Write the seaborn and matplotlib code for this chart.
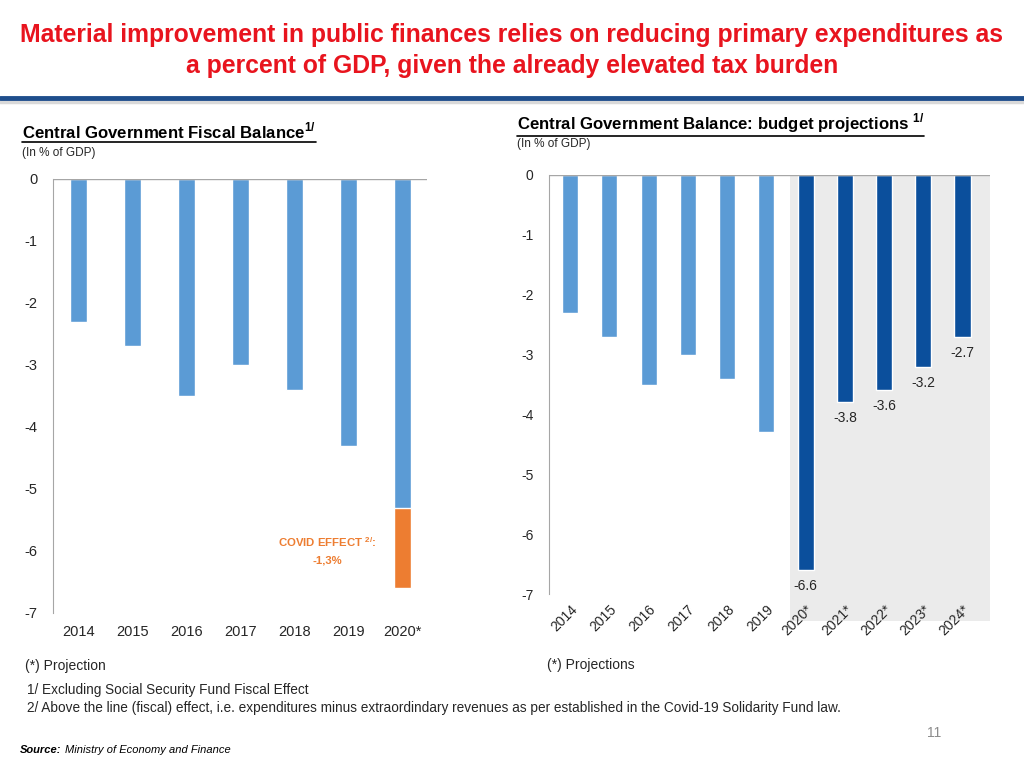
import matplotlib
matplotlib.use("Agg")
import matplotlib.pyplot as plt
import seaborn as sns
import pandas as pd
import numpy as np
from matplotlib.lines import Line2D

# left chart: fiscal balance (% of GDP), 2020 split into pre-covid part and covid effect
years_hist = ["2014", "2015", "2016", "2017", "2018", "2019", "2020*"]
balance_hist = [-2.3, -2.7, -3.5, -3.0, -3.4, -4.3, -5.3]
covid_effect = [0, 0, 0, 0, 0, 0, -1.3]

# right chart: budget projections
years_budget = ["2014", "2015", "2016", "2017", "2018", "2019",
                "2020*", "2021*", "2022*", "2023*", "2024*"]
balance_budget = [-2.3, -2.7, -3.5, -3.0, -3.4, -4.3, -6.6, -3.8, -3.6, -3.2, -2.7]
budget_kind = ["Actual"] * 6 + ["Projection"] * 5

y_ticks = [0, -1, -2, -3, -4, -5, -6, -7]

light_blue = "#5B9BD5"
dark_blue = "#0B4F9C"
orange = "#ED7D31"
text_col = "#262626"
axis_col = "#A6A6A6"

sns.set_style("white")
plt.rcParams["font.family"] = ["Liberation Sans", "DejaVu Sans"]
plt.rcParams["mathtext.fontset"] = "custom"
plt.rcParams["mathtext.rm"] = "Liberation Sans"
plt.rcParams["mathtext.bf"] = "Liberation Sans:bold"

fig = plt.figure(figsize=(10.24, 7.68), dpi=100)
W, H = 1024, 768
def fx(px): return px / W
def fy(py): return 1 - py / H

# ---- title and rule
fig.text(0.5, fy(35), "Material improvement in public finances relies on reducing primary expenditures as",
         ha="center", va="center", color="#E8141E", fontsize=17.8, fontweight="bold")
fig.text(0.5, fy(66), "a percent of GDP, given the already elevated tax burden",
         ha="center", va="center", color="#E8141E", fontsize=17.8, fontweight="bold")
fig.add_artist(Line2D([0, 1], [fy(102), fy(102)], transform=fig.transFigure, color="#D9D9D9", lw=2.5))
fig.add_artist(Line2D([0, 1], [fy(98), fy(98)], transform=fig.transFigure, color="#1F4E8C", lw=3.5))

# ---- left chart
ax1 = fig.add_axes([fx(53), fy(613), fx(427) - fx(53), fy(179) - fy(613)])
left_df = pd.DataFrame({"year": years_hist, "balance": balance_hist,
                        "total": np.add(balance_hist, covid_effect)})
sns.barplot(data=left_df, x="year", y="total", color=orange, width=0.32,
            saturation=1, errorbar=None, ax=ax1)
sns.barplot(data=left_df, x="year", y="balance", color=light_blue, width=0.32,
            saturation=1, errorbar=None, ax=ax1)
ax1.set_ylim(-7, 0)
ax1.set_xlim(-0.47, 6.45)
ax1.axhline(0, color=axis_col, lw=1)
for s in ["top", "right", "bottom"]:
    ax1.spines[s].set_visible(False)
ax1.spines["left"].set_color(axis_col)
ax1.set_yticks(y_ticks)
ax1.set_yticklabels([str(t) for t in y_ticks])
ax1.tick_params(axis="y", length=0, pad=11, labelsize=10.5, labelcolor=text_col)
ax1.tick_params(axis="x", length=0, pad=9, labelsize=10.5, labelcolor=text_col)
ax1.set_xlabel("")
ax1.set_ylabel("")
ax1.text(4.6, -5.86, r"COVID EFFECT $^{\mathbf{2/}}$:", ha="center", va="center",
         color=orange, fontsize=8.2, fontweight="bold")
ax1.text(4.6, -6.15, "-1,3%", ha="center", va="center",
         color=orange, fontsize=8.2, fontweight="bold")

# ---- right chart
ax2 = fig.add_axes([fx(549), fy(594), fx(990) - fx(549), fy(175) - fy(594)])
right_df = pd.DataFrame({"year": years_budget, "balance": balance_budget, "kind": budget_kind})
ax2.axvspan(5.6, 10.7, ymin=-0.065, ymax=1, color="#EBEBEB", lw=0, zorder=0, clip_on=False)
sns.barplot(data=right_df, x="year", y="balance", hue="kind",
            palette={"Actual": light_blue, "Projection": dark_blue}, dodge=False,
            width=0.41, saturation=1, errorbar=None, legend=False, ax=ax2)
ax2.set_ylim(-7, 0)
ax2.set_xlim(-0.54, 10.7)
ax2.axhline(0, color=axis_col, lw=1)
for s in ["top", "right", "bottom"]:
    ax2.spines[s].set_visible(False)
ax2.spines["left"].set_color(axis_col)
ax2.set_yticks(y_ticks)
ax2.set_yticklabels([str(t) for t in y_ticks])
ax2.tick_params(axis="y", length=0, pad=11, labelsize=10, labelcolor=text_col)
ax2.tick_params(axis="x", length=0, pad=6, labelsize=10, labelcolor=text_col)
for lab in ax2.get_xticklabels():
    lab.set_rotation(45)
    lab.set_ha("right")
    lab.set_rotation_mode("anchor")
ax2.set_xlabel("")
ax2.set_ylabel("")
for i, (v, k) in enumerate(zip(balance_budget, budget_kind)):
    if k == "Projection":
        ax2.annotate(f"{v:.1f}", (i, v), xytext=(0, -11.5), textcoords="offset points",
                     ha="center", va="center", fontsize=10, color=text_col)

# ---- chart headers (bold, underlined, with superscript)
def header(x, y, s):
    t = fig.text(fx(x), fy(y), s, ha="left", va="center", fontsize=12.1,
                 fontweight="bold", color="#000000")
    fig.canvas.draw()
    bb = t.get_window_extent()
    y0 = bb.y0 - 1
    fig.add_artist(Line2D([bb.x0 / W, bb.x1 / W], [y0 / H, y0 / H],
                          transform=fig.transFigure, color="#000000", lw=1.2))

header(22, 131, r"Central Government Fiscal Balance$^{\mathbf{1/}}$")
fig.text(fx(22), fy(153), "(In % of GDP)", ha="left", va="center", fontsize=8.5, color=text_col)
header(517, 123, r"Central Government Balance: budget projections $^{\mathbf{1/}}$")
fig.text(fx(517), fy(144), "(In % of GDP)", ha="left", va="center", fontsize=8.5, color=text_col)

# ---- footnotes
fig.text(fx(25), fy(666), "(*) Projection", ha="left", va="center", fontsize=10, color=text_col)
fig.text(fx(547), fy(665), "(*) Projections", ha="left", va="center", fontsize=10, color=text_col)
fig.text(fx(27), fy(690), "1/ Excluding Social Security Fund Fiscal Effect",
         ha="left", va="center", fontsize=9.8, color=text_col)
fig.text(fx(27), fy(708), "2/ Above the line (fiscal) effect, i.e. expenditures minus extraordindary revenues "
         "as per established in the Covid-19 Solidarity Fund law.",
         ha="left", va="center", fontsize=9.8, color=text_col)
src = fig.text(fx(20), fy(750), "Source:", ha="left", va="center", fontsize=8,
               fontweight="bold", fontstyle="italic", color="#000000")
fig.canvas.draw()
bb = src.get_window_extent()
fig.text(bb.x1 / W + 0.003, fy(750), "Ministry of Economy and Finance", ha="left", va="center",
         fontsize=8, fontstyle="italic", color="#000000")
fig.text(fx(934), fy(733), "11", ha="center", va="center", fontsize=10, color="#8C8C8C")

fig.savefig("out.png", dpi=100)
